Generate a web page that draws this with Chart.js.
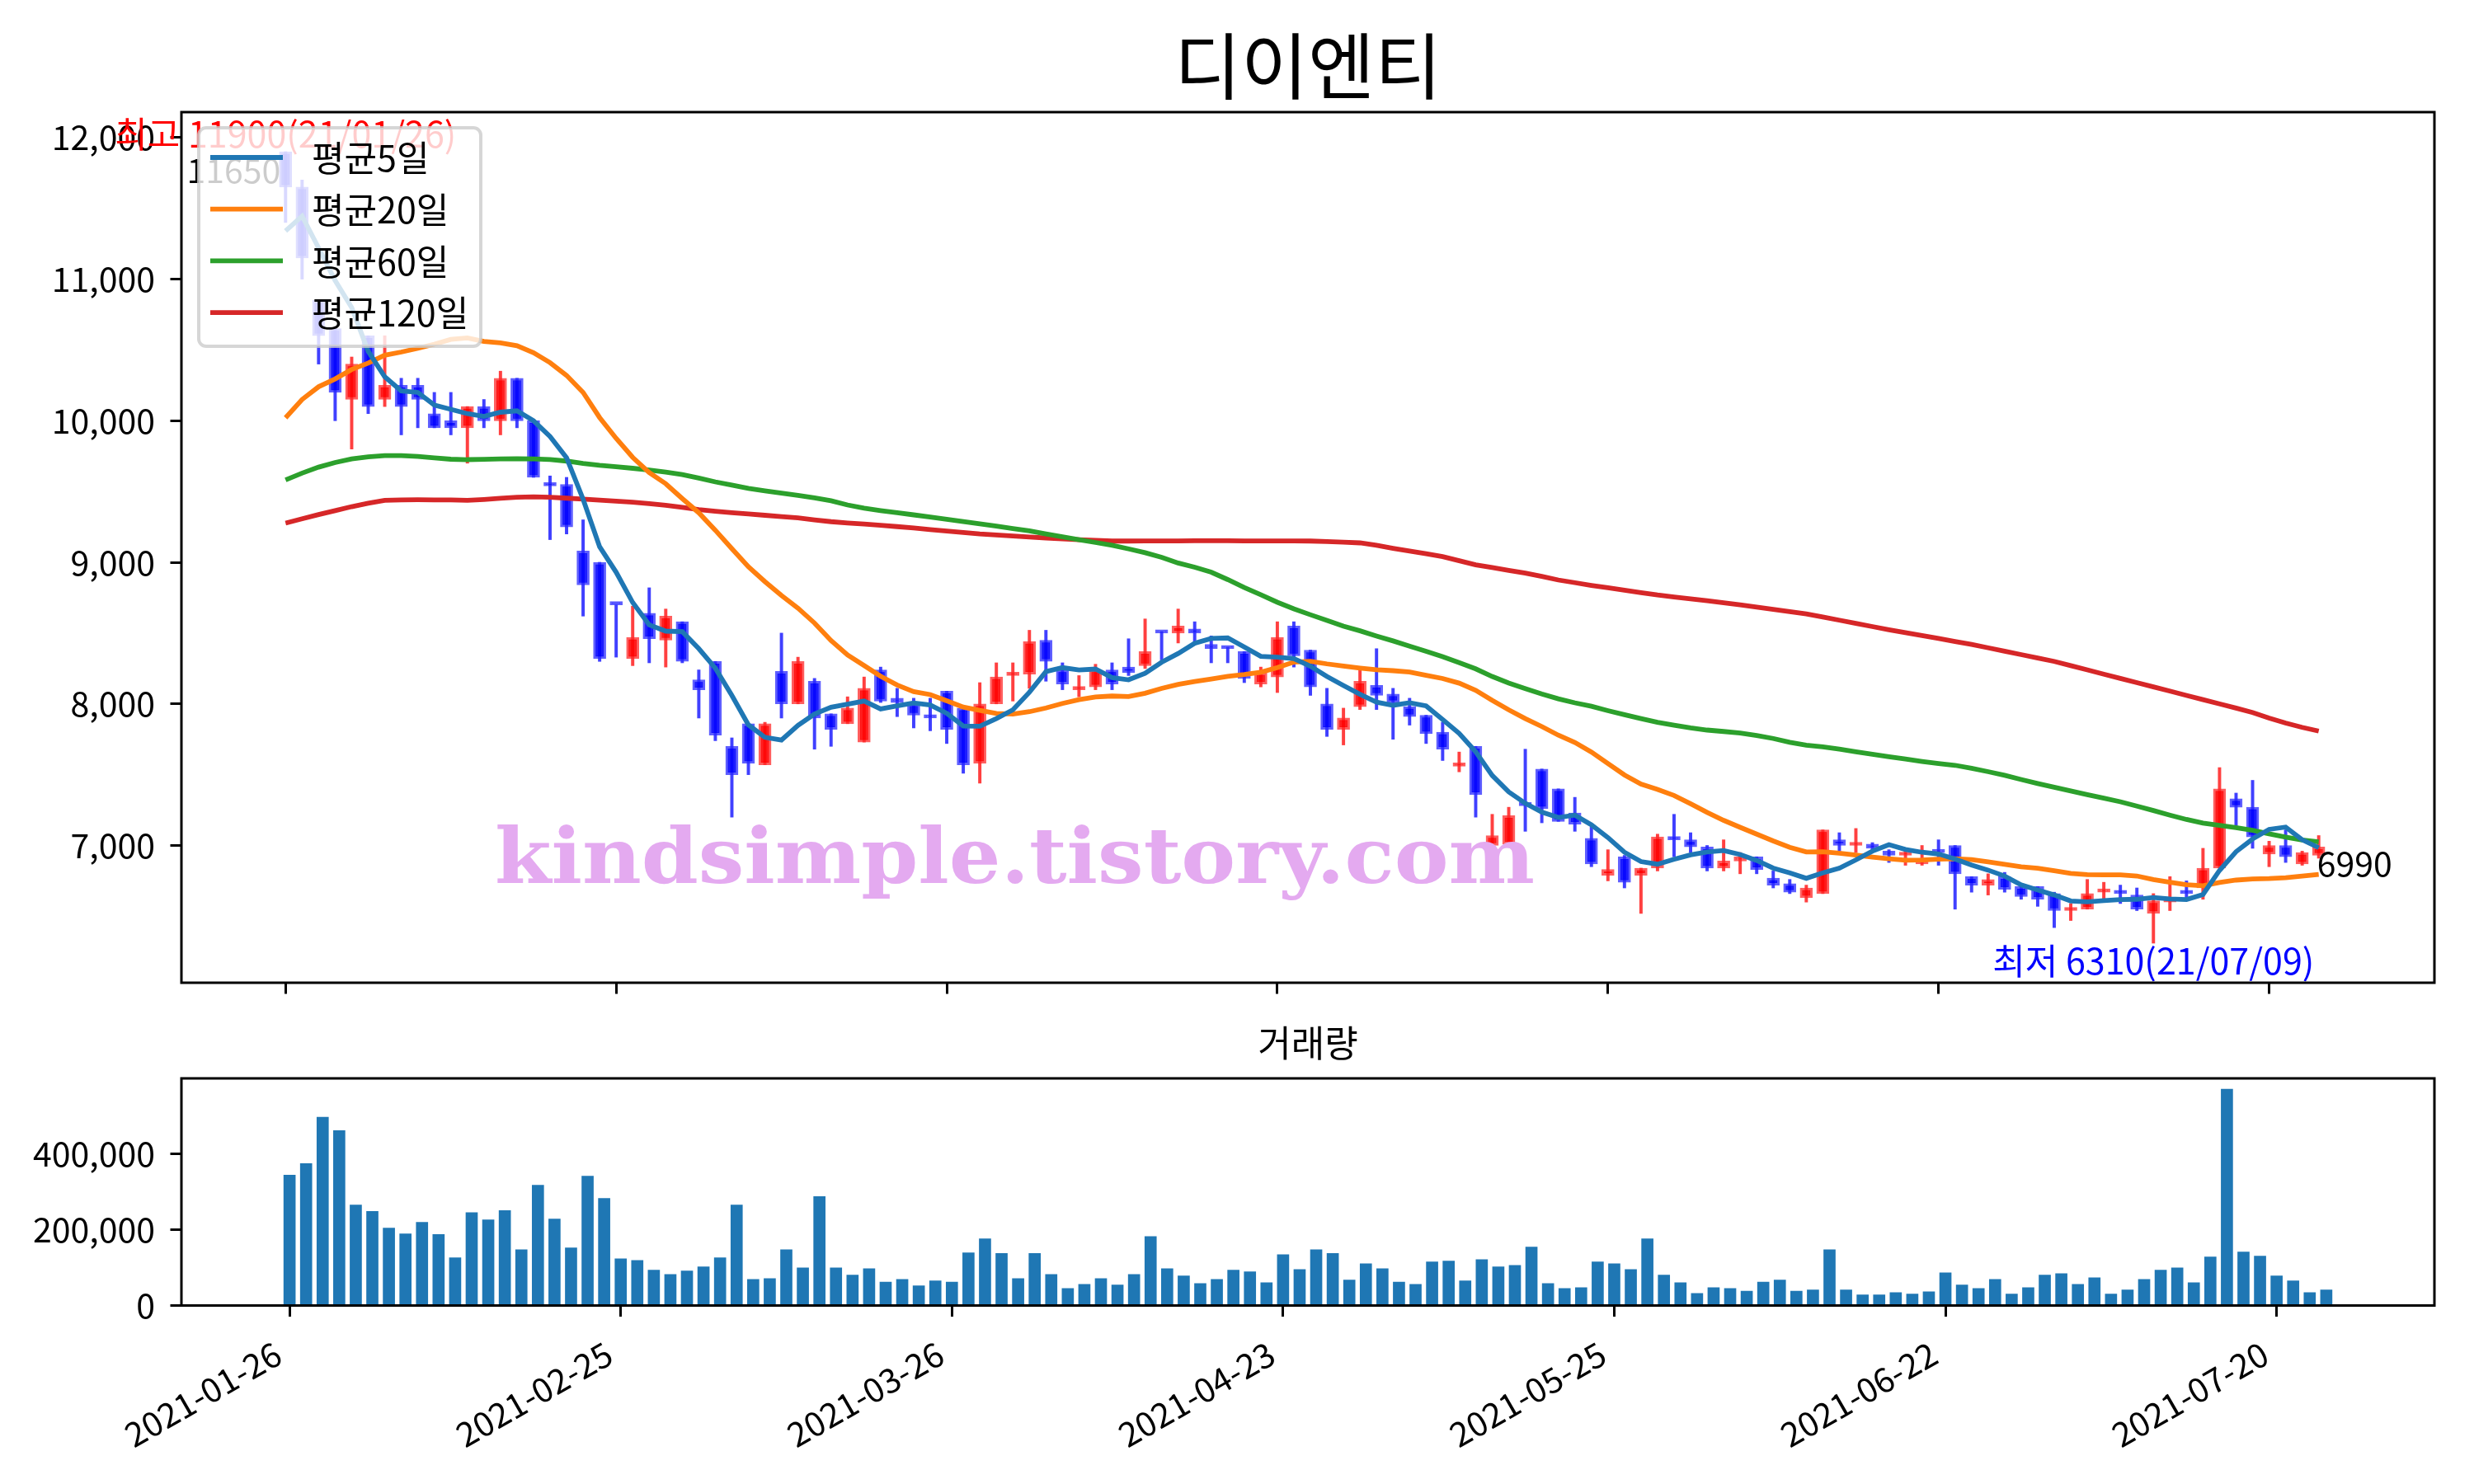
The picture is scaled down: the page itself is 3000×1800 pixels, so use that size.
<!DOCTYPE html>
<html><head><meta charset="utf-8">
<script src="https://cdn.jsdelivr.net/npm/chart.js@4.4.0/dist/chart.umd.min.js"></script>
<style>
html,body{margin:0;padding:0;background:#fff;}
#wrap{position:relative;width:3000px;height:1800px;background:#fff;overflow:hidden;}
canvas{position:absolute;left:0;}
#c1{top:0;}
#c2{top:1240px;}
</style></head><body>
<div id="wrap"><canvas id="c1" width="3000" height="1240"></canvas><canvas id="c2" width="3000" height="560"></canvas></div>
<script>
const dates = ['2021-01-26','2021-01-27','2021-01-28','2021-01-29',
'2021-02-01','2021-02-02','2021-02-03','2021-02-04','2021-02-05','2021-02-08','2021-02-09','2021-02-10','2021-02-15','2021-02-16','2021-02-17','2021-02-18','2021-02-19','2021-02-22','2021-02-23','2021-02-24','2021-02-25','2021-02-26',
'2021-03-02','2021-03-03','2021-03-04','2021-03-05','2021-03-08','2021-03-09','2021-03-10','2021-03-11','2021-03-12','2021-03-15','2021-03-16','2021-03-17','2021-03-18','2021-03-19','2021-03-22','2021-03-23','2021-03-24','2021-03-25','2021-03-26','2021-03-29','2021-03-30','2021-03-31',
'2021-04-01','2021-04-02','2021-04-05','2021-04-06','2021-04-07','2021-04-08','2021-04-09','2021-04-12','2021-04-13','2021-04-14','2021-04-15','2021-04-16','2021-04-19','2021-04-20','2021-04-21','2021-04-22','2021-04-23','2021-04-26','2021-04-27','2021-04-28','2021-04-29','2021-04-30',
'2021-05-03','2021-05-04','2021-05-06','2021-05-07','2021-05-10','2021-05-11','2021-05-12','2021-05-13','2021-05-14','2021-05-17','2021-05-18','2021-05-20','2021-05-21','2021-05-24','2021-05-25','2021-05-26','2021-05-27','2021-05-28','2021-05-31',
'2021-06-01','2021-06-02','2021-06-03','2021-06-04','2021-06-07','2021-06-08','2021-06-09','2021-06-10','2021-06-11','2021-06-14','2021-06-15','2021-06-16','2021-06-17','2021-06-18','2021-06-21','2021-06-22','2021-06-23','2021-06-24','2021-06-25','2021-06-28','2021-06-29','2021-06-30',
'2021-07-01','2021-07-02','2021-07-05','2021-07-06','2021-07-07','2021-07-08','2021-07-09','2021-07-12','2021-07-13','2021-07-14','2021-07-15','2021-07-16','2021-07-19','2021-07-20','2021-07-21','2021-07-22','2021-07-23'];

const opens = [11900,11650,10850,10650,10150,10600,10150,10250,10250,10050,
10000,9950,10100,10000,10300,10000,9560,9550,9080,9000,
8700,8320,8640,8450,8580,8170,8300,7700,7860,7570,
8230,8000,8160,7930,7860,7730,8240,8040,8000,7910,
8090,7970,7580,8000,8200,8210,8450,8240,8100,8120,
8240,8260,8270,8510,8500,8530,8420,8400,8370,8140,
8190,8550,8380,8000,7820,7980,8130,8070,7980,7920,
7800,7560,7700,7000,7010,7290,7540,7400,7230,7050,
6790,6920,6790,6840,7060,7040,6990,6840,6890,6920,
6770,6730,6630,6660,7040,7000,7010,6960,6930,6870,
6960,7000,6780,6720,6780,6710,6710,6660,6540,6550,
6670,6680,6650,6520,6600,6680,6700,6840,7330,7270,
6940,7000,6870,6930];
const highs = [11900,11700,10850,10650,10450,10600,10600,10300,10300,10200,
10200,10100,10150,10350,10300,10000,9610,9600,9300,9000,
8700,8690,8820,8670,8580,8240,8300,7760,7860,7870,
8500,8330,8180,7930,8050,8190,8260,8110,8040,8040,
8090,7970,8150,8290,8290,8520,8520,8290,8200,8280,
8290,8460,8600,8510,8670,8580,8480,8400,8370,8260,
8580,8580,8380,8110,7970,8240,8390,8110,8040,7920,
7870,7660,7700,7220,7270,7680,7540,7400,7340,7130,
6970,6930,6840,7080,7220,7090,7000,7040,6950,6920,
6820,6760,6720,7110,7090,7120,7020,6970,6960,7000,
7040,7000,6780,6800,6810,6710,6710,6670,6590,6760,
6740,6720,6700,6660,6780,6750,6980,7550,7370,7460,
7030,7110,6960,7070];
const lows = [11400,11000,10400,10000,9800,10050,10100,9900,9950,9950,
9900,9700,9950,9900,9950,9600,9160,9200,8620,8300,
8330,8270,8290,8260,8290,7900,7740,7200,7500,7570,
7900,8000,7680,7700,7860,7730,8010,7910,7830,7810,
7720,7510,7440,8000,8020,8110,8160,8100,8050,8100,
8100,8200,8250,8310,8430,8440,8290,8290,8150,8120,
8080,8260,8060,7770,7710,7960,7960,7750,7850,7720,
7600,7520,7200,6990,6990,7100,7160,7170,7100,6850,
6750,6700,6520,6820,6920,6950,6820,6820,6800,6800,
6700,6660,6600,6660,6960,6950,6960,6880,6860,6860,
6860,6550,6670,6650,6670,6620,6570,6420,6470,6550,
6620,6590,6540,6310,6540,6620,6620,6840,7140,6980,
6850,6880,6860,6910];
const closes = [11650,11150,10600,10200,10400,10100,10250,10100,10150,9950,
9950,10100,10000,10300,10000,9600,9540,9250,8840,8320,
8700,8470,8460,8620,8300,8100,7780,7500,7580,7860,
8000,8300,7900,7820,7970,8110,8020,8010,7920,7900,
7820,7570,8000,8190,8210,8440,8300,8140,8110,8240,
8140,8220,8370,8500,8550,8500,8390,8390,8180,8220,
8470,8340,8120,7820,7900,8160,8060,8010,7910,7790,
7680,7570,7360,7070,7210,7280,7260,7170,7150,6870,
6830,6740,6840,7060,7040,6990,6840,6890,6920,6830,
6720,6670,6700,7110,7000,7010,6980,6930,6940,6900,
6950,6800,6720,6760,6690,6640,6620,6540,6550,6660,
6680,6660,6550,6610,6610,6660,6840,7400,7270,7060,
7000,6920,6950,6990];
const volumes = [343500,374000,496000,461000,265000,248000,204000,189000,219000,187000,
126000,245000,226000,250000,147000,317000,228000,152000,341000,282000,
123000,119000,93000,82000,91000,102000,126000,265000,69000,71000,
147000,99000,287000,99000,80000,97000,62000,69000,52000,65000,
62000,139000,176000,137000,71000,137000,82000,45000,56000,71000,
54000,82000,182000,97000,78000,58000,69000,93000,89000,60000,
134000,95000,147000,137000,67000,110000,97000,62000,56000,115000,
117000,65000,121000,102000,106000,154000,58000,45000,47000,115000,
110000,95000,176000,80000,60000,32000,47000,45000,38000,62000,
67000,38000,41000,147000,41000,28000,28000,34000,30000,36000,
86000,54000,45000,69000,30000,47000,80000,84000,56000,73000,
30000,41000,69000,93000,99000,60000,128000,570000,141000,130000,
78000,65000,34000,41000];
const ma5 = [11340,11445,11220,10990,10800,10490,10310,10210,10200,10110,
10080,10050,10030,10060,10070,10000,9888,9738,9446,9110,
8930,8716,8558,8514,8510,8390,8252,8060,7852,7764,
7744,7848,7928,7976,7998,8020,7964,7986,8006,7992,
7934,7844,7842,7896,7958,8082,8228,8256,8240,8246,
8186,8170,8216,8294,8356,8428,8462,8466,8402,8336,
8330,8320,8266,8194,8130,8068,8012,7990,8008,7986,
7890,7792,7662,7494,7378,7298,7236,7198,7214,7146,
7056,6952,6886,6868,6902,6934,6954,6964,6936,6894,
6840,6806,6768,6806,6840,6898,6960,7006,6972,6952,
6940,6904,6862,6826,6784,6722,6686,6650,6608,6602,
6610,6618,6620,6632,6622,6618,6654,6824,6956,7046,
7114,7130,7040,6984];
const ma20 = [10021,10150,10240,10295,10362,10407,10463,10485,10511,10540,
10574,10585,10560,10550,10530,10480,10410,10320,10200,10022.5,
9875,9741,9634,9555,9450,9350,9226.5,9096.5,8968,8863.5,
8766,8676,8571,8447,8345.5,8271,8195,8133,8087,8066,
8022,7977,7954,7932.5,7928,7945,7971,8003,8029.5,8048.5,
8055.5,8051.5,8075,8109,8138,8157.5,8176,8195,8208,8224,
8256.5,8295,8301,8282.5,8267,8253,8241,8234.5,8224.5,8202,
8179,8146.5,8096,8024.5,7957.5,7896.5,7840,7779,7727.5,7660,
7578,7498,7434,7396,7353,7294.5,7233.5,7177.5,7128,7080,
7032,6987,6954,6956,6945.5,6932,6918,6906,6895.5,6897,
6903,6906,6900,6885,6867.5,6850,6839,6821.5,6803,6794.5,
6792.5,6792,6784.5,6759.5,6740,6722.5,6715.5,6739,6755.5,6763.5,
6766,6772,6783.5,6795];
const ma60 = [9582,9630,9672,9705,9730,9745,9754,9754,9748,9738,
9728,9725,9727,9730,9732,9730,9726,9715,9698,9685,
9675,9664,9652,9637,9620,9595,9568,9545,9522,9505,
9488,9472,9455,9435,9405,9382,9365,9350,9335,9320,
9304,9288,9272,9255,9238,9222,9200,9180,9160,9140,
9120,9095,9068,9035,8995,8965,8930,8878,8822,8770.8,
8717.8,8671,8629.7,8590,8548.3,8516,8479.5,8444.7,8407.3,8371.3,
8333.5,8291.3,8247.3,8193.5,8147,8108.3,8070.3,8035.7,8007.5,7983.3,
7952.2,7923.3,7896.3,7870.3,7849.3,7830.8,7815.2,7805,7794,7776.8,
7755.5,7728.3,7708.3,7696.5,7680.3,7662,7644.7,7626.7,7610.3,7593.7,
7579.2,7566.3,7545,7521.2,7495.8,7465.8,7437.8,7411.2,7385.2,7358.8,
7334.5,7308.5,7278.2,7246.7,7214.3,7183.7,7157.8,7141.3,7126.2,7106.8,
7082.3,7058.7,7039.2,7025.3];
const ma120 = [9277,9307,9337,9365,9393,9417,9438,9441,9442,9441,
9440,9438,9444,9452,9460,9462,9460,9453,9446,9439,
9432,9425,9414,9403,9388,9372,9361,9350,9341,9332,
9323,9314,9300,9287,9278,9270,9261,9252,9242,9231,
9221,9210,9200,9193,9186,9179,9172,9166,9160,9155,
9150,9150,9151,9151,9151,9152,9152,9152,9151,9151,
9151,9151,9150,9146,9142,9137,9120,9099,9080,9060,
9040,9011,8982,8963,8943,8924,8900,8875,8856,8837,
8820,8803,8786,8769,8755,8742,8728,8714,8700,8684,
8668,8652,8636,8614,8591,8569,8546,8524,8503,8483,
8462,8441,8420,8396,8372,8348,8324,8300,8270,8240,
8210,8180,8150,8120,8090,8060,8030,8000,7970,7938.8,
7900.1,7864.8,7834.4,7807.7];
const xTickIdx = [0,20,40,60,80,100,120];
const priceTicks = [7000,8000,9000,10000,11000,12000];
const volTicks = [0,200000,400000];
const maLabels = ['평균5일','평균20일','평균60일','평균120일'];
const maColors = ['#1f77b4','#ff7f0e','#2ca02c','#d62728'];
const chartTitle = '디이엔티';
const volTitle = '거래량';
const watermark = 'kindsimple.tistory.com';

const FONT = '"Noto Sans CJK KR", "Noto Sans", sans-serif';
const n = closes.length;
const up = closes.map((c,i)=> c > opens[i]);
const bodyData = opens.map((o,i)=>({x:i, y:[o, closes[i]]}));
const wickData = lows.map((l,i)=>({x:i, y:[l, highs[i]]}));
const pts = arr => arr.map((v,i)=>({x:i, y:v}));
const hi = Math.max(...highs), lo = Math.min(...lows), pr = hi - lo;
const iHi = highs.indexOf(hi), iLo = lows.indexOf(lo), last = n - 1;
const fmtD = d => d.slice(2).replace(/-/g,'/');
const fmtN = v => Number(v).toLocaleString('en-US');

const commonTicks = {color:'#000', font:{family:FONT, size:41}};
const tickGrid = {display:true, drawOnChartArea:false, drawTicks:true, tickLength:13.5, tickColor:'#000', tickWidth:3, offset:false};

function frame(chart){
  const {ctx, chartArea:a} = chart;
  ctx.save(); ctx.strokeStyle='#000'; ctx.lineWidth=3;
  ctx.strokeRect(a.left, a.top, a.right-a.left, a.bottom-a.top);
  ctx.restore();
}

const mainDeco = {
  id:'mainDeco',
  afterDatasetsDraw(chart){
    const {ctx, scales:{x,y}} = chart;
    ctx.save();
    ctx.font = 'bold 94px "DejaVu Serif"';
    const w = ctx.measureText(watermark).width;
    ctx.translate(600, 1071);
    ctx.scale(1261 / w, 1);
    ctx.fillStyle = 'rgb(228,170,240)';
    ctx.textAlign='left'; ctx.textBaseline='alphabetic';
    ctx.fillText(watermark, 0, 0);
    ctx.restore();
    ctx.save();
    ctx.font = '43px ' + FONT;
    ctx.fillStyle = '#ff0000'; ctx.textAlign='center'; ctx.textBaseline='bottom';
    ctx.fillText('최고 ' + hi + '(' + fmtD(dates[iHi]) + ')', x.getPixelForValue(iHi), y.getPixelForValue(hi));
    ctx.fillStyle = '#0000ff'; ctx.textAlign='center'; ctx.textBaseline='top';
    ctx.fillText('최저 ' + lo + '(' + fmtD(dates[iLo]) + ')', x.getPixelForValue(iLo), y.getPixelForValue(lo));
    ctx.font = '41px ' + FONT;
    ctx.fillStyle = '#000'; ctx.textAlign='right'; ctx.textBaseline='bottom';
    ctx.fillText(String(closes[0]), x.getPixelForValue(0) - 6, y.getPixelForValue(closes[0]));
    ctx.textAlign='left'; ctx.textBaseline='top';
    ctx.fillText(String(closes[last]), x.getPixelForValue(last) - 2, y.getPixelForValue(closes[last]));
    ctx.restore();
  },
  afterDraw(chart){
    const {ctx, chartArea:a} = chart;
    frame(chart);
    ctx.save();
    ctx.font = '88px ' + FONT; ctx.fillStyle='#000'; ctx.textAlign='center'; ctx.textBaseline='alphabetic';
    ctx.fillText(chartTitle, (a.left + a.right)/2, 113);
    const lx = a.left + 21, ly = a.top + 19, lw = 342, lh = 265;
    ctx.beginPath();
    ctx.roundRect(lx, ly, lw, lh, 9);
    ctx.fillStyle = 'rgba(255,255,255,0.8)'; ctx.fill();
    ctx.lineWidth = 4; ctx.strokeStyle = 'rgba(204,204,204,0.8)'; ctx.stroke();
    ctx.font = '43px ' + FONT; ctx.textAlign='left'; ctx.textBaseline='middle';
    maLabels.forEach((lab, k) => {
      const yy = ly + 36 + k*62.7;
      ctx.beginPath(); ctx.moveTo(lx + 14, yy); ctx.lineTo(lx + 102, yy);
      ctx.strokeStyle = maColors[k]; ctx.lineWidth = 5.8; ctx.stroke();
      ctx.fillStyle = '#000'; ctx.fillText(lab, lx + 137, yy + 1);
    });
    ctx.restore();
  }
};

const volDeco = {
  id:'volDeco',
  afterDraw(chart){
    const {ctx, chartArea:a} = chart;
    frame(chart);
    ctx.save();
    ctx.font = '44px ' + FONT; ctx.fillStyle='#000'; ctx.textAlign='center'; ctx.textBaseline='middle';
    ctx.fillText(volTitle, (a.left + a.right)/2, 25);
    ctx.restore();
  }
};

const lineDs = (arr, k) => ({type:'line', label:maLabels[k], data:pts(arr), borderColor:maColors[k], borderWidth:5.8,
  pointRadius:0, tension:0, fill:false, order:0});

new Chart(document.getElementById('c1'), {
  type:'bar',
  data:{datasets:[
    lineDs(ma5,0), lineDs(ma20,1), lineDs(ma60,2), lineDs(ma120,3),
    {type:'bar', label:'body', data:bodyData, grouped:false, order:1, barThickness:15, minBarLength:4,
      backgroundColor: up.map(u => u ? 'rgba(255,0,0,0.88)' : 'rgba(0,0,255,0.88)'),
      borderColor: up.map(u => u ? 'rgba(255,40,40,0.75)' : 'rgba(40,40,255,0.75)'),
      borderWidth:3, borderSkipped:false},
    {type:'bar', label:'wick', data:wickData, grouped:false, order:2, barThickness:3.3,
      backgroundColor: up.map(u => u ? 'rgba(255,0,0,0.75)' : 'rgba(0,0,255,0.75)'), borderWidth:0}
  ]},
  options:{
    responsive:false, animation:false, devicePixelRatio:1,
    layout:{padding:{left:0, right:48, top:136, bottom:0}},
    plugins:{legend:{display:false}, tooltip:{enabled:false}, title:{display:false}},
    scales:{
      x:{type:'linear', min:-6.3, max:130.0, offset:false,
        grid:tickGrid, border:{display:false},
        afterBuildTicks: ax => { ax.ticks = xTickIdx.map(v => ({value:v})); },
        afterFit: s => { s.height = 48; },
        ticks:{...commonTicks, callback: () => '', maxRotation:0, minRotation:0, autoSkip:false}},
      y:{type:'linear', min: lo - 0.05*pr, max: hi + 0.05*pr,
        grid:tickGrid, border:{display:false},
        afterBuildTicks: ax => { ax.ticks = priceTicks.map(v => ({value:v})); },
        afterFit: s => { s.width = 220; },
        ticks:{...commonTicks, padding:18.5, callback: v => fmtN(v)}}
    }
  },
  plugins:[mainDeco]
});

new Chart(document.getElementById('c2'), {
  type:'bar',
  data:{datasets:[
    {label:volTitle, data:pts(volumes), backgroundColor:'#1f77b4', barThickness:14, grouped:false, borderWidth:0}
  ]},
  options:{
    responsive:false, animation:false, devicePixelRatio:1,
    layout:{padding:{left:0, right:48, top:68, bottom:0}},
    plugins:{legend:{display:false}, tooltip:{enabled:false}, title:{display:false}},
    scales:{
      x:{type:'linear', min:-6.53, max:129.53, offset:false,
        grid:tickGrid, border:{display:false},
        afterBuildTicks: ax => { ax.ticks = xTickIdx.map(v => ({value:v})); },
        afterFit: s => { s.height = 216.5; },
        ticks:{...commonTicks, autoSkip:false, maxRotation:30, minRotation:30, padding:20, labelOffset:-14,
          callback: v => dates[v] || ''}},
      y:{type:'linear', min:0, max: Math.max(...volumes)*1.05,
        grid:tickGrid, border:{display:false},
        afterBuildTicks: ax => { ax.ticks = volTicks.map(v => ({value:v})); },
        afterFit: s => { s.width = 220; },
        ticks:{...commonTicks, padding:18.5, callback: v => fmtN(v)}}
    }
  },
  plugins:[volDeco]
});
</script>
</body></html>
